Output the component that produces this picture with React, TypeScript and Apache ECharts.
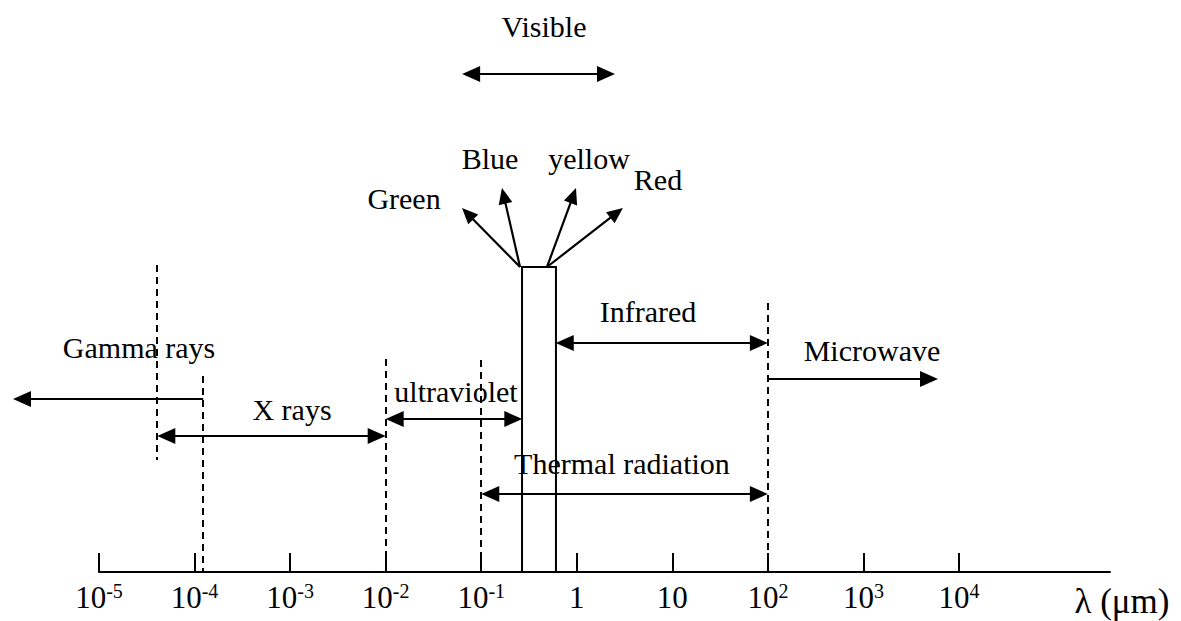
import React, { useEffect, useRef } from "react";
import * as echarts from "echarts";

// ---- Data (x values are log10 of wavelength in µm) ----
const tickExponents = [-5, -4, -3, -2, -1, 0, 1, 2, 3, 4];
const tickLabels = [
  "{b|10}{s|-5}", "{b|10}{s|-4}", "{b|10}{s|-3}", "{b|10}{s|-2}", "{b|10}{s|-1}",
  "{b|1}", "{b|10}", "{b|10}{s|2}", "{b|10}{s|3}", "{b|10}{s|4}",
];
const axisName = "λ (μm)";

const bandNames = ["Gamma rays", "X rays", "ultraviolet", "Infrared", "Microwave", "Thermal radiation", "Visible"];
const bandFrom = [-3.91, -4.39, -2.0, -0.22, 2.0, -1.0, -1.2];
const bandTo = [-5.9, -2.0, -0.57, 2.0, 3.78, 2.0, 0.4];
const bandHeads = ["end", "both", "both", "both", "end", "both", "both"];

const boundaryAt = [-4.39, -3.91, -2.0, -1.0, 2.0];

const visibleWindow = [-0.573, -0.218];

const colorNames = ["Green", "Blue", "yellow", "Red"];
const colorFrom = [-0.594, -0.594, -0.312, -0.312];
const colorTo = [-1.201, -0.783, -0.008, 0.483];

// ---- Layout (heights above the axis, in y-axis units) ----
const bandLevel = [173, 136, 153, 229, 193, 78, 498];
const bandLabelX = [-4.581, -2.98, -1.264, 0.745, 3.089, 0.473, -0.343];
const bandLabelLevel = [225, 163, 181, 261, 222, 109, 546];
const boundaryTop = [307, 196, 213, 212, 269];
const boundaryBottom = [112, 0, 0, 0, 0];
const windowTop = 305;
const colorToLevel = [364, 384, 384, 364];
const colorLabelX = [-1.808, -0.908, 0.128, 0.85];
const colorLabelLevel = [374, 414, 414, 393];

const FONT = "'Liberation Serif', 'Times New Roman', serif";

function head(tip: number[], from: number[], len: number, half: number) {
  const dx = tip[0] - from[0];
  const dy = tip[1] - from[1];
  const d = Math.hypot(dx, dy);
  const ux = dx / d, uy = dy / d;
  const bx = tip[0] - ux * len, by = tip[1] - uy * len;
  return {
    type: "polygon",
    shape: { points: [tip, [bx - uy * half, by + ux * half], [bx + uy * half, by - ux * half]] },
    style: { fill: "#000" },
  };
}

function arrow(a: number[], b: number[], both: boolean, len: number, half: number) {
  const dx = b[0] - a[0], dy = b[1] - a[1];
  const d = Math.hypot(dx, dy);
  const ux = dx / d, uy = dy / d;
  const s = both ? [a[0] + ux * (len - 1), a[1] + uy * (len - 1)] : a;
  const e = [b[0] - ux * (len - 1), b[1] - uy * (len - 1)];
  const out: any[] = [
    { type: "line", shape: { x1: s[0], y1: s[1], x2: e[0], y2: e[1] }, style: { stroke: "#000", lineWidth: 2.2 } },
    head(b, a, len, half),
  ];
  if (both) out.push(head(a, b, len, half));
  return out;
}

function label(p: number[], text: string, size: number) {
  return {
    type: "text",
    x: p[0],
    y: p[1],
    style: { text, fill: "#000", fontSize: size, fontFamily: FONT, align: "center", verticalAlign: "middle" },
  };
}

export default function App() {
  const ref = useRef<HTMLDivElement>(null);
  useEffect(() => {
    const chart = echarts.init(ref.current!, null, { renderer: "svg" });
    const option: any = {
      animation: false,
      backgroundColor: "#fff",
      grid: { left: 99, right: 71, top: 0, bottom: 49, containLabel: false, outerBoundsMode: "none" },
      xAxis: {
        type: "value",
        min: -5,
        max: 5.58,
        interval: 1,
        splitLine: { show: false },
        axisLine: { show: true, lineStyle: { color: "#000", width: 2 } },
        axisTick: {
          show: true,
          inside: true,
          length: 19,
          lineStyle: { color: "#000", width: 2 },
          customValues: tickExponents,
        },
        axisLabel: {
          show: true,
          margin: 9,
          customValues: tickExponents,
          formatter: (v: number) => {
            const i = tickExponents.findIndex((t) => Math.abs(t - v) < 1e-6);
            return i >= 0 ? tickLabels[i] : "";
          },
          rich: {
            b: { fontSize: 31, fontFamily: FONT, color: "#000", lineHeight: 32 },
            s: { fontSize: 20, fontFamily: FONT, color: "#000", lineHeight: 18, verticalAlign: "top" },
          },
        },
      },
      yAxis: { type: "value", min: 0, max: 572, show: false, splitLine: { show: false } },
      graphic: [
        {
          type: "text",
          x: 1122,
          y: 601,
          style: { text: axisName, fill: "#000", fontSize: 35, fontFamily: FONT, align: "center", verticalAlign: "middle" },
        },
      ],
      series: [
        {
          type: "custom",
          name: "boundaries",
          clip: false,
          silent: true,
          data: boundaryAt.map((x, i) => [x, boundaryTop[i]]),
          renderItem: (params: any, api: any) => {
            const i = params.dataIndex;
            const a = api.coord([boundaryAt[i], boundaryTop[i]]);
            const b = api.coord([boundaryAt[i], boundaryBottom[i]]);
            const x = Math.round(a[0]);
            return {
              type: "line",
              shape: { x1: x, y1: a[1], x2: x, y2: b[1] },
              style: { stroke: "#000", lineWidth: 2, lineDash: [7, 5] },
            };
          },
        },
        {
          type: "custom",
          name: "visible window",
          clip: false,
          silent: true,
          data: [[visibleWindow[0], windowTop]],
          renderItem: (params: any, api: any) => {
            const a = api.coord([visibleWindow[0], windowTop]);
            const b = api.coord([visibleWindow[1], 0]);
            return {
              type: "rect",
              shape: { x: a[0], y: a[1], width: b[0] - a[0], height: b[1] - a[1] },
              style: { fill: "#fff", stroke: "#000", lineWidth: 2 },
            };
          },
        },
        {
          type: "custom",
          name: "bands",
          clip: false,
          silent: true,
          data: bandNames.map((_, i) => [bandFrom[i], bandLevel[i]]),
          renderItem: (params: any, api: any) => {
            const i = params.dataIndex;
            const a = api.coord([bandFrom[i], bandLevel[i]]);
            const b = api.coord([bandTo[i], bandLevel[i]]);
            const children: any[] = arrow(a, b, bandHeads[i] === "both", 18, 8);
            children.push(label(api.coord([bandLabelX[i], bandLabelLevel[i]]), bandNames[i], 30));
            return { type: "group", children };
          },
        },
        {
          type: "custom",
          name: "colours",
          clip: false,
          silent: true,
          data: colorNames.map((_, i) => [colorFrom[i], windowTop]),
          renderItem: (params: any, api: any) => {
            const i = params.dataIndex;
            const a = api.coord([colorFrom[i], windowTop]);
            const b = api.coord([colorTo[i], colorToLevel[i]]);
            const children: any[] = arrow(a, b, false, 16, 7);
            children.push(label(api.coord([colorLabelX[i], colorLabelLevel[i]]), colorNames[i], 30));
            return { type: "group", children };
          },
        },
      ],
    };
    chart.setOption(option);
    return () => chart.dispose();
  }, []);
  return (
    <div
      ref={ref}
      style={{ position: "fixed", left: 0, top: 0, width: 1181, height: 621, background: "#fff" }}
    />
  );
}
